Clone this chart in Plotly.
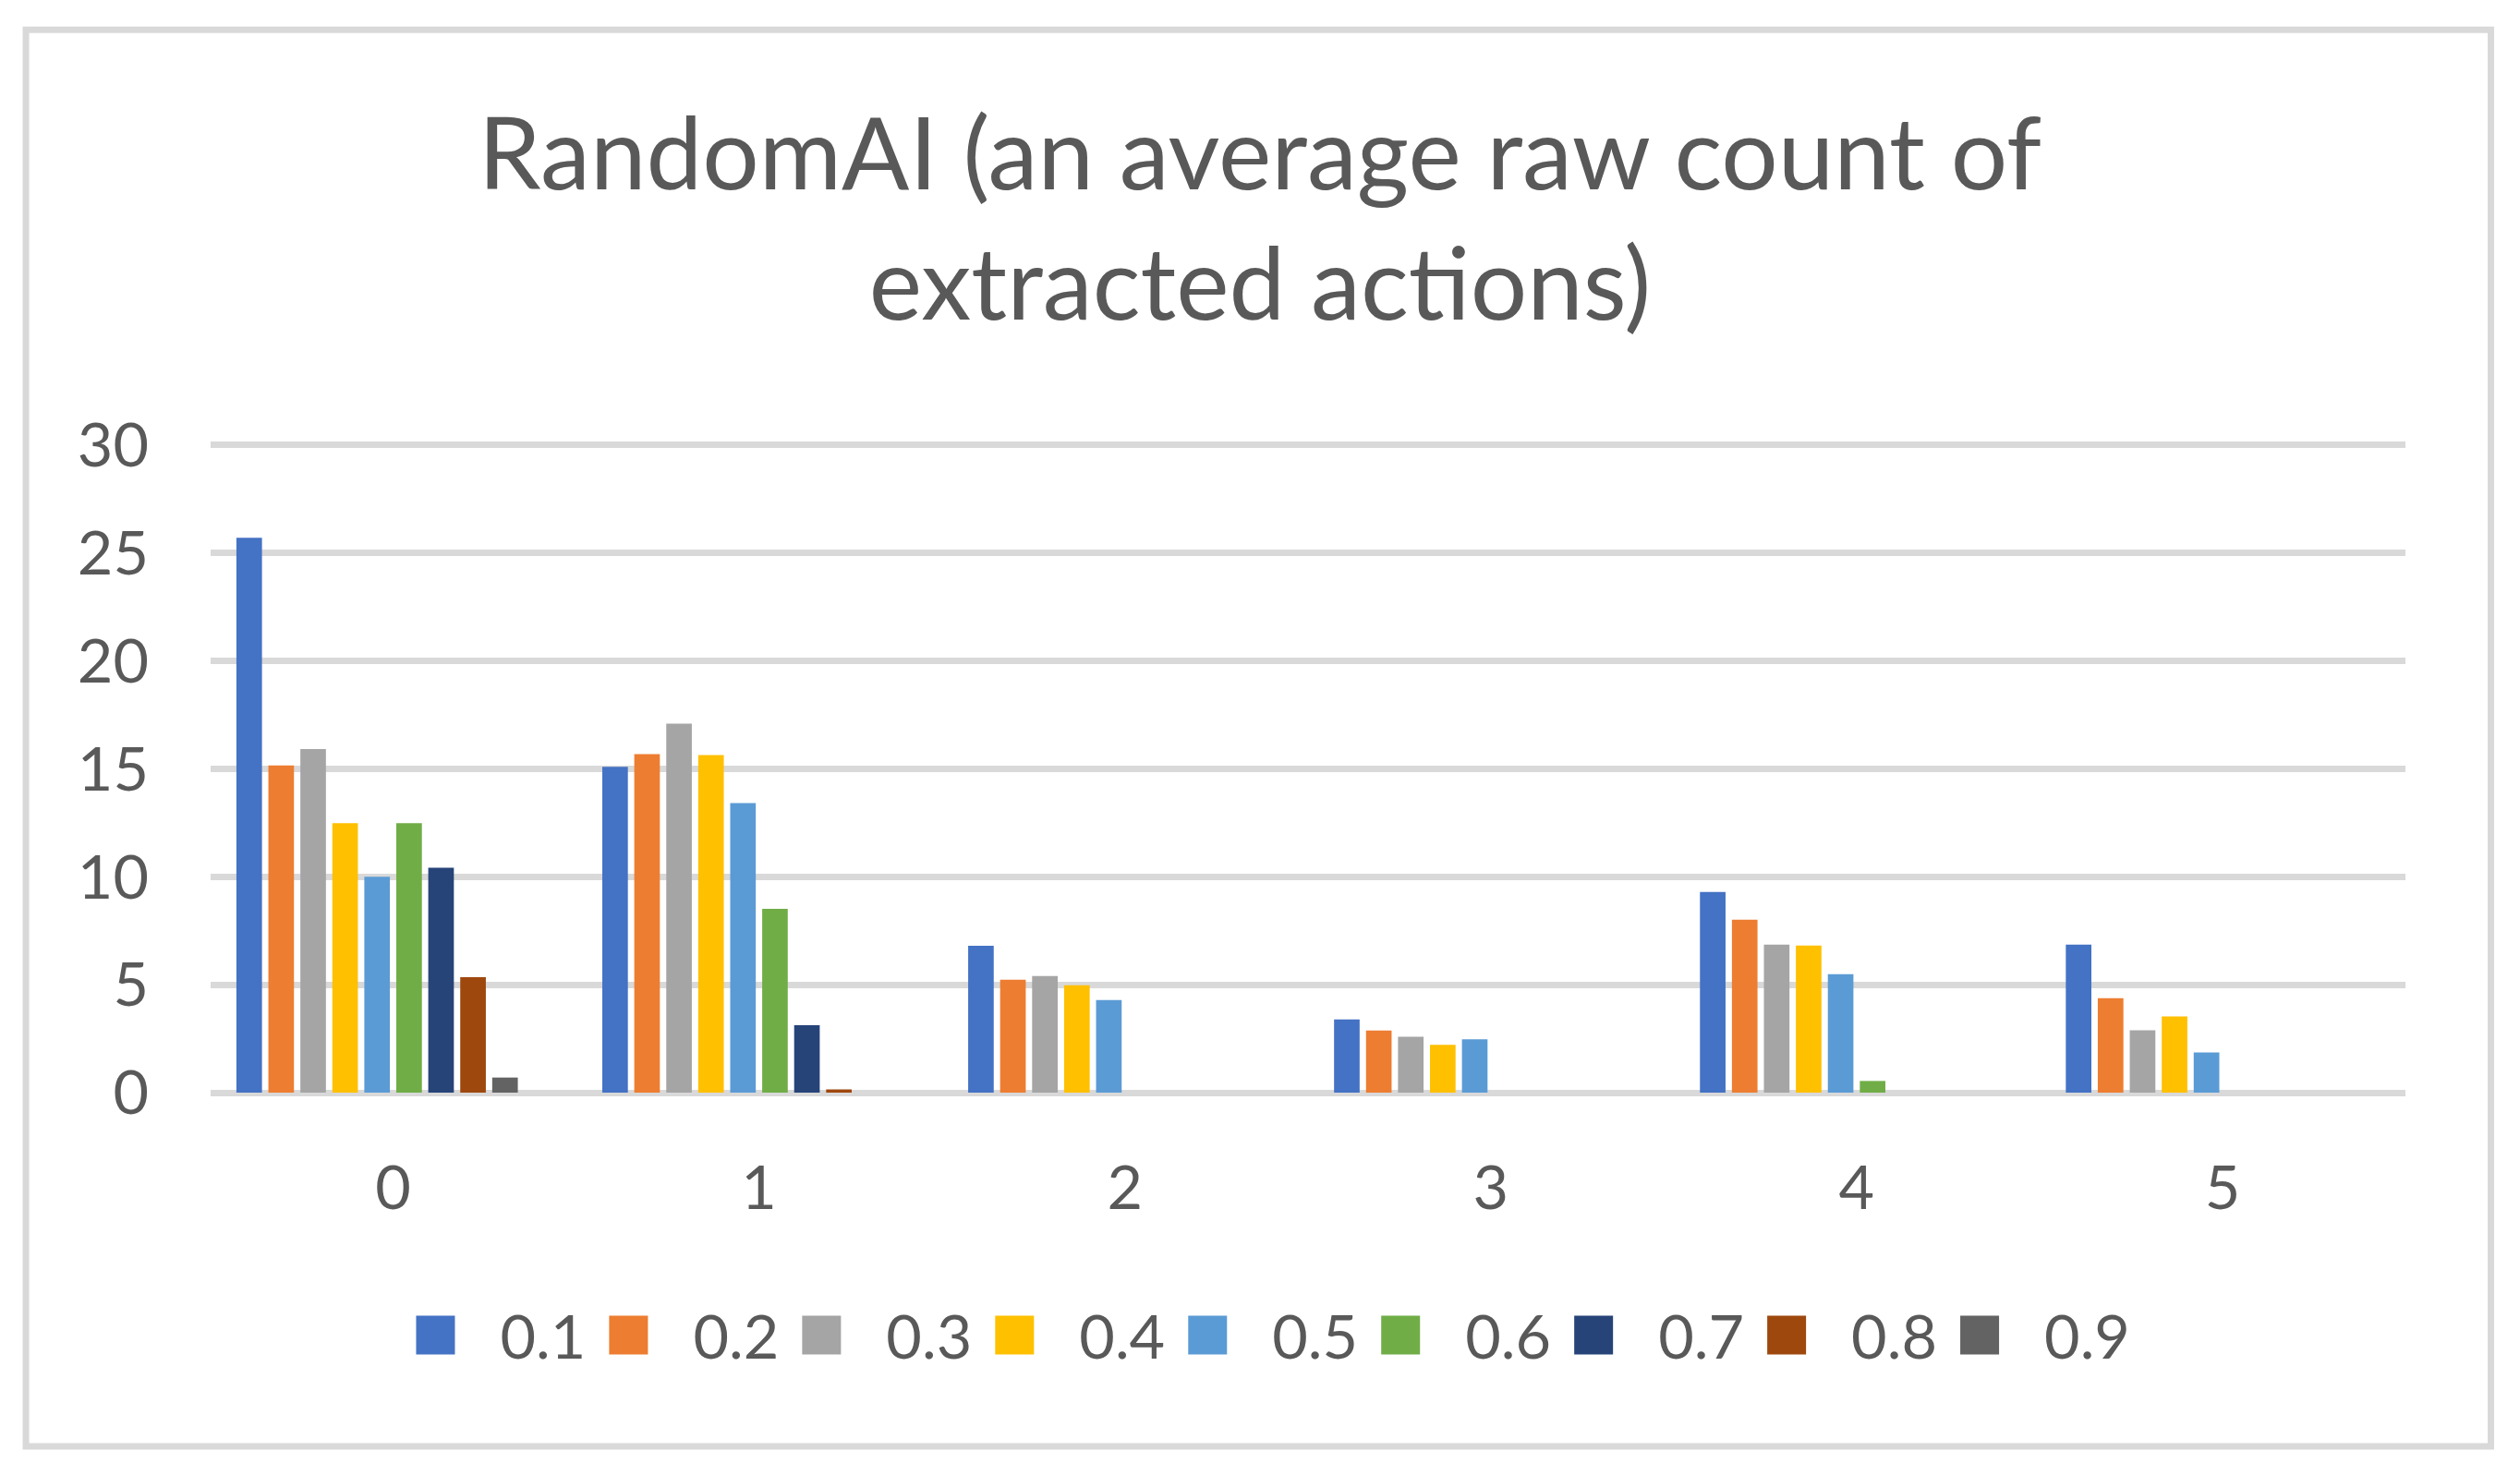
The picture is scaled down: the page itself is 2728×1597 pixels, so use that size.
import plotly.graph_objects as go

# ---------------- data ----------------
categories = ["0", "1", "2", "3", "4", "5"]
series_names = ["0.1", "0.2", "0.3", "0.4", "0.5", "0.6", "0.7", "0.8", "0.9"]
s01 = [25.7, 15.09, 6.80, 3.39, 9.29, 6.86]
s02 = [15.16, 15.68, 5.23, 2.88, 8.01, 4.38]
s03 = [15.92, 17.09, 5.40, 2.59, 6.86, 2.89]
s04 = [12.48, 15.64, 4.98, 2.21, 6.81, 3.53]
s05 = [10.0, 13.41, 4.29, 2.47, 5.49, 1.86]
s06 = [12.48, 8.51, 0, 0, 0.54, 0]
s07 = [10.42, 3.12, 0, 0, 0, 0]
s08 = [5.35, 0.12, 0, 0, 0, 0]
s09 = [0.70, 0, 0, 0, 0, 0]
s10 = [0, 0, 0, 0, 0, 0]   # empty tenth series (keeps Excel's slot, not in legend)
y_ticks = [0, 5, 10, 15, 20, 25, 30]
title_text = "RandomAI (an average raw count of<br>extracted actions)"

series_values = [s01, s02, s03, s04, s05, s06, s07, s08, s09]
colors = ["#4472C4", "#ED7D31", "#A5A5A5", "#FFC000", "#5B9BD5",
          "#70AD47", "#264478", "#9E480E", "#636363"]

# ---------------- geometry (real pixels, rendered at 1/S then scaled) ----------------
S = 3.5
W_REAL, H_REAL = 2728, 1597
Y_TOP = 30.4                       # a little headroom so the 30 gridline is drawn
L, R, B = 229, 2606, 1185
PX_PER_UNIT = (1185 - 481) / 30.0
T = B - Y_TOP * PX_PER_UNIT
W, H = W_REAL / S, H_REAL / S

def px(xr):
    return (xr - L) / (R - L)

def py(yr):
    return (B - yr) / (B - T)

FONT = "Lato"
TXT = "#595959"
GRID = "#D9D9D9"

fig = go.Figure()
for i, (name, vals, col) in enumerate(zip(series_names, series_values, colors)):
    fig.add_trace(go.Bar(x=categories, y=vals, name=name,
                         legendwidth=(40 if i == len(series_names) - 1 else None),
                         marker=dict(color=col, line=dict(width=0))))
fig.add_trace(go.Bar(x=categories, y=s10, name="1", showlegend=False,
                     marker=dict(color="#997300", line=dict(width=0))))

fig.update_layout(
    width=W, height=H,
    margin=dict(l=L / S, r=(W_REAL - R) / S, t=T / S, b=(H_REAL - B) / S, pad=0),
    paper_bgcolor="white", plot_bgcolor="white",
    barmode="group", bargap=0.126, bargroupgap=0.2,
    title=dict(text=title_text, x=0.5, xref="container", xanchor="center",
               y=1 - 205 / H_REAL, yref="container", yanchor="middle",
               font=dict(family=FONT, size=31, color=TXT)),
    font=dict(family=FONT, color=TXT),
    showlegend=True,
    legend=dict(orientation="h", x=px(403), xanchor="left",
                y=py(1449), yanchor="middle",
                font=dict(family=FONT, size=19, color=TXT),
                entrywidth=14.7, itemwidth=30, bgcolor="rgba(0,0,0,0)",
                traceorder="normal"),
    xaxis=dict(type="category", showgrid=False, showline=False, zeroline=False,
               ticks="", tickfont=dict(family=FONT, size=19, color=TXT),
               ticklabelstandoff=16),
    yaxis=dict(range=[0, Y_TOP], tickvals=y_ticks, showgrid=True, gridcolor=GRID,
               gridwidth=2, zeroline=True, zerolinecolor=GRID, zerolinewidth=2,
               showline=False, ticks="", tickfont=dict(family=FONT, size=19, color=TXT),
               ticklabelstandoff=18),
    shapes=[dict(type="rect", xref="paper", yref="paper",
                 x0=px(29.5), x1=px(2698.5), y0=py(1569.5), y1=py(29.5),
                 line=dict(color=GRID, width=2), fillcolor="rgba(0,0,0,0)",
                 layer="below")],
)

post = """
var gd = document.getElementById('{plot_id}');
document.documentElement.style.overflow = 'hidden';
document.body.style.margin = '0';
document.body.style.overflow = 'hidden';
gd.style.transformOrigin = '0 0';
gd.style.transform = 'scale(%s)';
""" % S

fig.write_html("out.html", post_script=post, config={"responsive": False, "displayModeBar": False})
